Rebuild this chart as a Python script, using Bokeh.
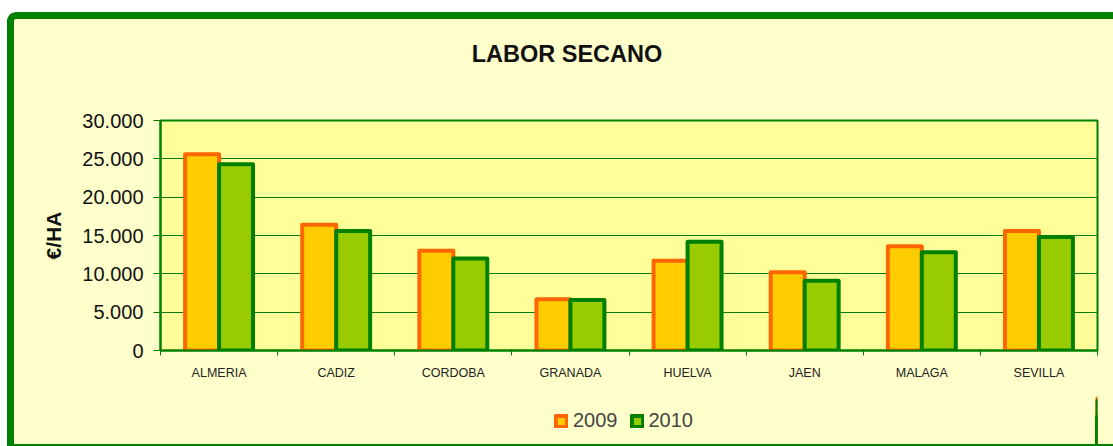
from bokeh.plotting import figure
from bokeh.layouts import column
from bokeh.models import (ColumnDataSource, Range1d, FixedTicker, CustomJSTickFormatter,
                          Legend, LegendItem, Label)
from bokeh.embed import file_html
from bokeh.resources import INLINE

# ---- data ----
categories = ["ALMERIA", "CADIZ", "CORDOBA", "GRANADA", "HUELVA", "JAEN", "MALAGA", "SEVILLA"]
values_2009 = [25600, 16400, 13000, 6700, 11700, 10200, 13600, 15600]
values_2010 = [24300, 15600, 12000, 6600, 14200, 9100, 12800, 14800]
series_names = ["2009", "2010"]
y_ticks = [0, 5000, 10000, 15000, 20000, 25000, 30000]
title_text = "LABOR SECANO"

FONT = "Liberation Sans"
BG = "#FFFFCC"
C09 = dict(fill_color="#FFCC00", line_color="#FF6600")
C10 = dict(fill_color="#99CC00", line_color="#008000")
n = len(categories)
idx = list(range(n))
off = 0.145
bw = 0.29
W = 1099
ML, MR = 146, 16

src = ColumnDataSource(dict(
    x09=[i + 0.5 - off for i in idx],
    x10=[i + 0.5 + off for i in idx],
    v09=values_2009,
    v10=values_2010,
    cat=categories,
))


def strip(height, y_end=1):
    f = figure(width=W, height=height, output_backend="svg", toolbar_location=None,
               x_range=Range1d(-3, -2), y_range=Range1d(0, y_end),
               x_axis_type=None, y_axis_type=None,
               min_border_left=ML, min_border_right=MR, min_border_top=0, min_border_bottom=0)
    f.background_fill_color = BG
    f.border_fill_color = BG
    f.outline_line_color = None
    return f


# ---- title strip ----
top = strip(52)
top.add_layout(Label(text=title_text, x=406.5, y=17.7, x_units="screen", y_units="screen",
                     text_align="center", text_baseline="alphabetic",
                     text_font=FONT, text_font_size="23.5px", text_font_style="bold",
                     text_color="#111111"))

# ---- main chart ----
p = figure(width=W, height=319, output_backend="svg", toolbar_location=None,
           x_range=Range1d(0, n), y_range=Range1d(0, 30000),
           min_border_left=ML, min_border_right=MR, min_border_top=49, min_border_bottom=40)

p.background_fill_color = "#FFFF99"
p.border_fill_color = BG
p.outline_line_color = "#008000"
p.outline_line_width = 2

p.vbar(x="x09", top="v09", width=bw, source=src, line_width=4, line_join="round", **C09)
p.vbar(x="x10", top="v10", width=bw, source=src, line_width=4, line_join="round", **C10)

# x axis
p.xaxis.ticker = FixedTicker(ticks=[i + 0.5 for i in idx], minor_ticks=list(range(n + 1)))
p.xaxis.formatter = CustomJSTickFormatter(args=dict(cats=categories),
                                          code="return cats[Math.round(tick - 0.5)];")
p.xaxis.major_tick_line_color = None
p.xaxis.minor_tick_out = 5
p.xaxis.minor_tick_in = 0
p.xaxis.minor_tick_line_color = "#008000"
p.xaxis.axis_line_color = "#008000"
p.xaxis.axis_line_width = 2
p.xaxis.major_label_text_font = FONT
p.xaxis.major_label_text_font_size = "12.5px"
p.xaxis.major_label_text_color = "#222222"
p.xaxis.major_label_standoff = 9
p.xgrid.visible = False

# y axis
p.yaxis.ticker = FixedTicker(ticks=y_ticks)
p.yaxis.formatter = CustomJSTickFormatter(
    code="return tick == 0 ? '0' : (tick/1000).toFixed(3);")
p.yaxis.major_tick_out = 7
p.yaxis.major_tick_in = 0
p.yaxis.minor_tick_line_color = None
p.yaxis.major_tick_line_color = "#008000"
p.yaxis.axis_line_color = "#008000"
p.yaxis.axis_line_width = 2
p.yaxis.major_label_text_font = FONT
p.yaxis.major_label_text_font_size = "20px"
p.yaxis.major_label_text_color = "#111111"
p.yaxis.major_label_standoff = 10
p.yaxis.axis_label = "€/HA"
p.yaxis.axis_label_text_font = FONT
p.yaxis.axis_label_text_font_style = "bold"
p.yaxis.axis_label_text_font_size = "21px"
p.yaxis.axis_label_text_color = "#111111"
p.yaxis.axis_label_standoff = 14
p.ygrid.grid_line_color = "#0A7A0A"
p.ygrid.grid_line_width = 1

# ---- legend strip (same series, drawn out of view; only the legend shows) ----
lg = strip(54, y_end=30000)
k09 = lg.vbar(x="x09", top="v09", width=bw, source=src, line_width=4, line_join="round", **C09)
k10 = lg.vbar(x="x10", top="v10", width=bw, source=src, line_width=4, line_join="round", **C10)
legend = Legend(items=[LegendItem(label=series_names[0], renderers=[k09]),
                       LegendItem(label=series_names[1], renderers=[k10])],
                location=(394, 12), orientation="horizontal",
                background_fill_alpha=0, border_line_color=None,
                label_text_font=FONT, label_text_font_size="20px",
                glyph_width=14, glyph_height=14, spacing=12, padding=0, margin=0,
                label_standoff=5)
lg.add_layout(legend, "center")

layout = column(top, p, lg, spacing=0,
                styles={"border-top": "7px solid #008000", "border-left": "7px solid #008000",
                        "border-bottom": "2px solid #008000", "border-top-left-radius": "9px",
                        "background-color": BG,
                        "margin-top": "12px", "margin-left": "7px", "margin-bottom": "-12px"})

open("out.html", "w").write(file_html(layout, INLINE))
